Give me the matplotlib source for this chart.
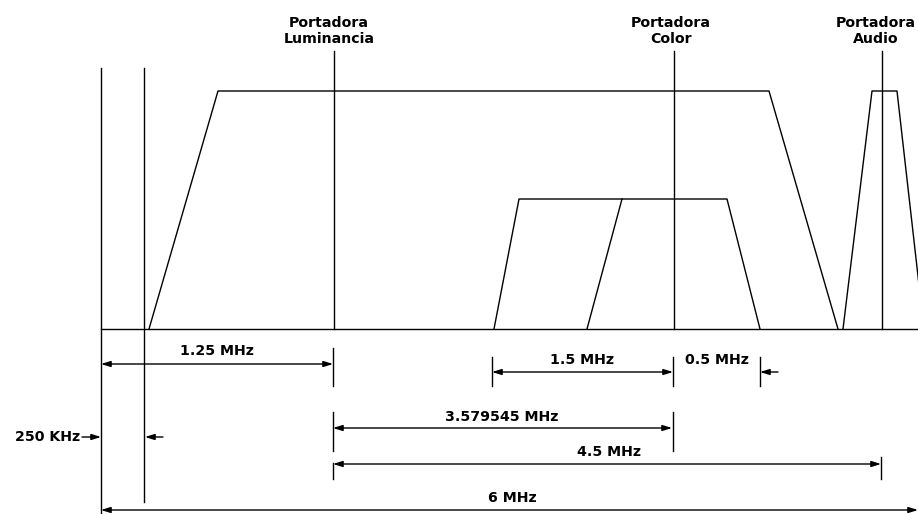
import matplotlib
matplotlib.use("Agg")
import matplotlib.pyplot as plt

plt.rcParams['font.family'] = ['DejaVu Sans']

# Espectro de un canal de TV (NTSC). El dibujo no esta a escala:
# las posiciones son las del esquema (px), no MHz reales.
base_y = 329

luma_x = [149, 218, 769, 838]
luma_y = [329, 91, 91, 329]
croma_x = [494, 519, 727, 760]
croma_y = [329, 199, 199, 329]
croma2_x = [587, 622]
croma2_y = [329, 199]
audio_x = [843, 872, 897, 924]
audio_y = [329, 91, 91, 329]

portadoras = ['Portadora\nLuminancia', 'Portadora\nColor', 'Portadora\nAudio']
portadora_x = [334, 674, 882]
portadora_txt_x = [329, 671, 876]

# lineas de referencia del canal (borde y 250 KHz)
borde_x = [101, 144]
borde_fin = [514, 502]

# cotas: texto, desde, hasta, altura, texto x, texto y
cotas = [
    ('1.25 MHz', 101, 333, 364, 217, 351),
    ('1.5 MHz', 492, 673, 372, 582, 360),
    ('3.579545 MHz', 333, 672, 428, 502, 417),
    ('4.5 MHz', 333, 881, 464, 609, 452),
    ('6 MHz', 101, 918, 510, 512, 498),
]

# marcas verticales cortas de las cotas: x, y0, y1
marcas = [
    (333, 348, 386), (333, 412, 451), (333, 463, 479),
    (492, 357, 386),
    (673, 357, 386), (673, 412, 451),
    (760, 357, 386),
    (881, 457, 479),
]

fs = 10.2

fig = plt.figure(figsize=(9.18, 5.14), dpi=100)
ax = fig.add_axes([0, 0, 1, 1])
ax.set_xlim(0, 918)
ax.set_ylim(514, 0)
ax.axis('off')

lw = 1.0
k = 'black'

ax.plot([101, 918], [base_y, base_y], color=k, lw=lw)
for x, y1 in zip(borde_x, borde_fin):
    ax.plot([x, x], [68, y1], color=k, lw=lw)

ax.plot(luma_x, luma_y, color=k, lw=lw)
ax.plot(croma_x, croma_y, color=k, lw=lw)
ax.plot(croma2_x, croma2_y, color=k, lw=lw)
ax.plot(audio_x, audio_y, color=k, lw=lw)

for txt, x, tx in zip(portadoras, portadora_x, portadora_txt_x):
    ax.plot([x, x], [51, base_y], color=k, lw=lw)
    ax.text(tx, 31, txt, ha='center', va='center', fontsize=fs,
            fontweight='bold', linespacing=1.1)

flecha = dict(arrowstyle='<|-|>,head_length=0.8,head_width=0.25', color=k,
              lw=lw, shrinkA=0, shrinkB=0, mutation_scale=7)
flecha1 = dict(arrowstyle='-|>,head_length=0.8,head_width=0.25', color=k,
               lw=lw, shrinkA=0, shrinkB=0, mutation_scale=7)

for txt, x0, x1, y, tx, ty in cotas:
    ax.annotate('', xy=(x1, y), xytext=(x0, y), arrowprops=flecha)
    ax.text(tx, ty, txt, ha='center', va='center', fontsize=fs,
            fontweight='bold')

for x, y0, y1 in marcas:
    ax.plot([x, x], [y0, y1], color=k, lw=lw)

# 0.5 MHz (cota exterior)
ax.annotate('', xy=(760, 372), xytext=(778, 372), arrowprops=flecha1)
ax.text(717, 360, '0.5 MHz', ha='center', va='center', fontsize=fs,
        fontweight='bold')

# 250 KHz (cota exterior)
ax.annotate('', xy=(101, 437), xytext=(82, 437), arrowprops=flecha1)
ax.annotate('', xy=(145, 437), xytext=(163, 437), arrowprops=flecha1)
ax.text(80, 437, '250 KHz', ha='right', va='center', fontsize=fs,
        fontweight='bold')

fig.savefig('out.png', dpi=100, facecolor='white')
